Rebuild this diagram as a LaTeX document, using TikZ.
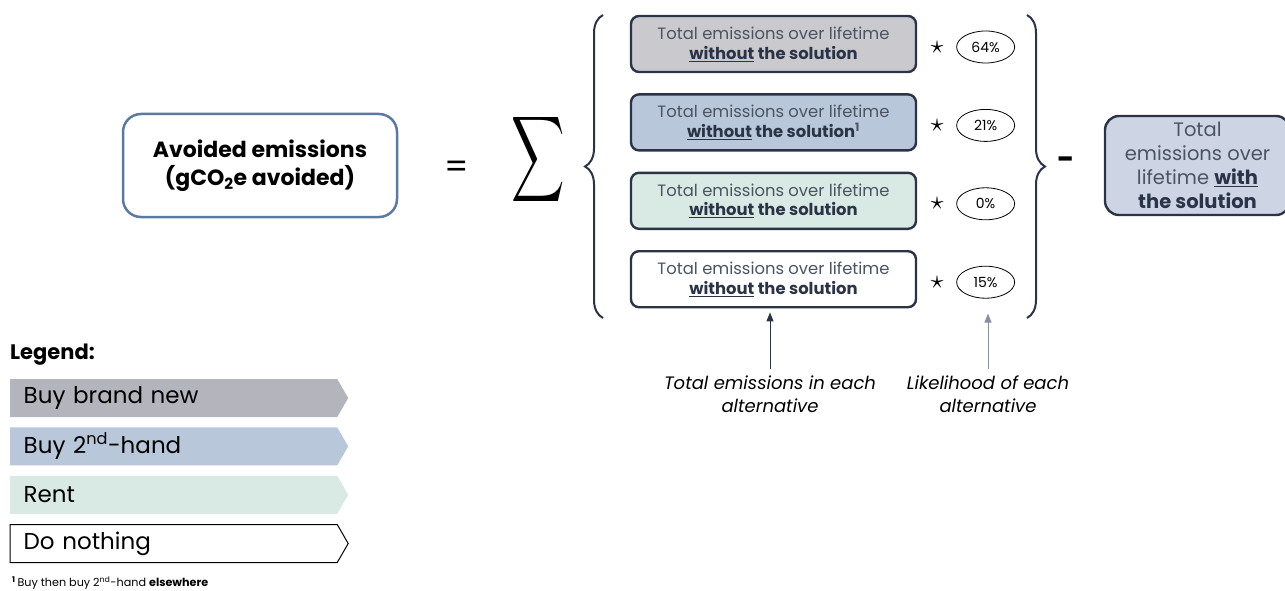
\documentclass[tikz,border=0pt]{standalone}
\usepackage{fontspec}
\setmainfont{Poppins}
\usetikzlibrary{positioning,shapes.geometric,shapes.symbols,decorations.pathreplacing,arrows.meta}

\definecolor{navy}{HTML}{2B3447}
\definecolor{slate}{HTML}{4A5462}
\definecolor{steel}{HTML}{5A7AA3}
\definecolor{fillNew}{HTML}{C9C9CE}
\definecolor{legNew}{HTML}{B4B4BC}
\definecolor{fillTwo}{HTML}{B9C7DA}
\definecolor{fillRent}{HTML}{D9E9E3}
\definecolor{fillWith}{HTML}{CDD5E4}
\definecolor{arrGray}{HTML}{8790A0}

\tikzset{
  altbox/.style={draw=navy, line width=2.4pt, rounded corners=8pt, minimum width=285pt,
    minimum height=56pt, align=center, inner sep=0pt, font=\fontsize{16.4}{20}\selectfont, text=slate},
  pctbox/.style={ellipse, draw=black, line width=0.8pt, minimum width=58pt, minimum height=32pt,
    inner sep=0pt, font=\fontsize{14}{14}\selectfont},
  timesym/.style={inner sep=0pt, yshift=-3pt, scale=2.6},
  legitem/.style={signal, signal to=east, signal pointer angle=120, minimum width=338pt,
    minimum height=38pt, anchor=west, inner xsep=11pt, text width=300pt, align=left,
    font=\fontsize{23}{23}\selectfont},
  note/.style={align=center, font=\fontsize{18}{23}\selectfont\itshape},
  upar/.style={-{Triangle[length=9pt,width=7pt]}, line width=1pt},
  curly/.style={decorate, decoration={brace, amplitude=18pt, aspect=0.5}, draw=navy, line width=2pt}
}

\newcommand{\wosol}{\textcolor{navy}{\textbf{\underline{without} the solution}}}

\begin{document}
\begin{tikzpicture}[x=1pt,y=-1pt]
  \path[use as bounding box] (0,0) rectangle (1285,591);
  \clip (0,0) rectangle (1285,591);

  % left hand side
  \node[draw=steel, line width=2.5pt, rounded corners=18pt, minimum width=274pt, minimum height=103pt,
    align=center, font=\fontsize{22}{28}\selectfont\bfseries] (avoided) at (260,165.5)
    {Avoided emissions\\(gCO\textsubscript{2}e avoided)};
  \node[font=\fontsize{34}{34}\selectfont] (eq) at (457,170) {=};
  \node[inner sep=0pt, xscale=3.7, yscale=6] (sum) at (538.5,160) {$\displaystyle\sum$};

  % alternatives
  \node[altbox, fill=fillNew] (alt1) at (773.5,44) {Total emissions over lifetime\\\wosol};
  \node[altbox, fill=fillTwo, below=20pt of alt1] (alt2) {Total emissions over lifetime\\\wosol\textsuperscript{\textbf{1}}};
  \node[altbox, fill=fillRent, below=20pt of alt2] (alt3) {Total emissions over lifetime\\\wosol};
  \node[altbox, fill=white, below=20pt of alt3] (alt4) {Total emissions over lifetime\\\wosol};

  % likelihoods
  \node[timesym, right=13pt of alt1] (x1) {$\star$};
  \node[timesym, right=13pt of alt2] (x2) {$\star$};
  \node[timesym, right=13pt of alt3] (x3) {$\star$};
  \node[timesym, right=13pt of alt4] (x4) {$\star$};
  \node[pctbox, right=12pt of x1] (p1) {64\%};
  \node[pctbox, right=12pt of x2] (p2) {21\%};
  \node[pctbox, right=12pt of x3] (p3) {0\%};
  \node[pctbox, right=12pt of x4] (p4) {15\%};

  % braces
  \coordinate (lbTop) at (603,15);
  \coordinate (lbBot) at (603,318);
  \coordinate (rbTop) at (1027,15);
  \coordinate (rbBot) at (1027,318);
  \draw[curly] (lbBot) -- (lbTop);
  \draw[curly] (rbTop) -- (rbBot);

  % right hand side
  \node[font=\fontsize{30}{30}\selectfont\bfseries] (minus) at (1066,163) {-};
  \node[draw=navy, fill=fillWith, line width=2.4pt, rounded corners=14pt, minimum width=185pt,
    minimum height=99pt, align=center, font=\fontsize{19.5}{24}\selectfont, text=slate] (withsol) at (1197.5,165.5)
    {Total\\emissions over\\lifetime \textcolor{navy}{\textbf{\underline{with}}}\\\textcolor{navy}{\textbf{the solution}}};

  % explanations
  \node[note] (nTot) at (770,394) {Total emissions in each\\alternative};
  \node[note] (nLik) at (988,394) {Likelihood of each\\alternative};
  \draw[upar, navy, shorten <=3pt, shorten >=4pt] (nTot.north) -- (nTot.north |- alt4.south);
  \draw[upar, arrGray, shorten <=3pt, shorten >=15pt] (nLik.north) -- (nLik.north |- p4.south);

  % legend
  \node[anchor=west, inner sep=0pt, font=\fontsize{21}{21}\selectfont\bfseries] (legend) at (10,355) {Legend:};
  \node[legitem, fill=legNew] (lgNew) at (10,398) {Buy brand new};
  \node[legitem, fill=fillTwo, below=10pt of lgNew] (lgTwo) {Buy 2\textsuperscript{nd}-hand};
  \node[legitem, fill=fillRent, below=10pt of lgTwo] (lgRent) {Rent};
  \node[legitem, fill=white, draw=black, line width=1pt, below=10pt of lgRent] (lgNone) {Do nothing};

  \node[anchor=west, inner sep=0pt, font=\fontsize{11.2}{12}\selectfont] (foot) at (12,583)
    {\textsuperscript{\textbf{1}}\,Buy then buy 2\textsuperscript{nd}-hand \textbf{elsewhere}};
\end{tikzpicture}
\end{document}
